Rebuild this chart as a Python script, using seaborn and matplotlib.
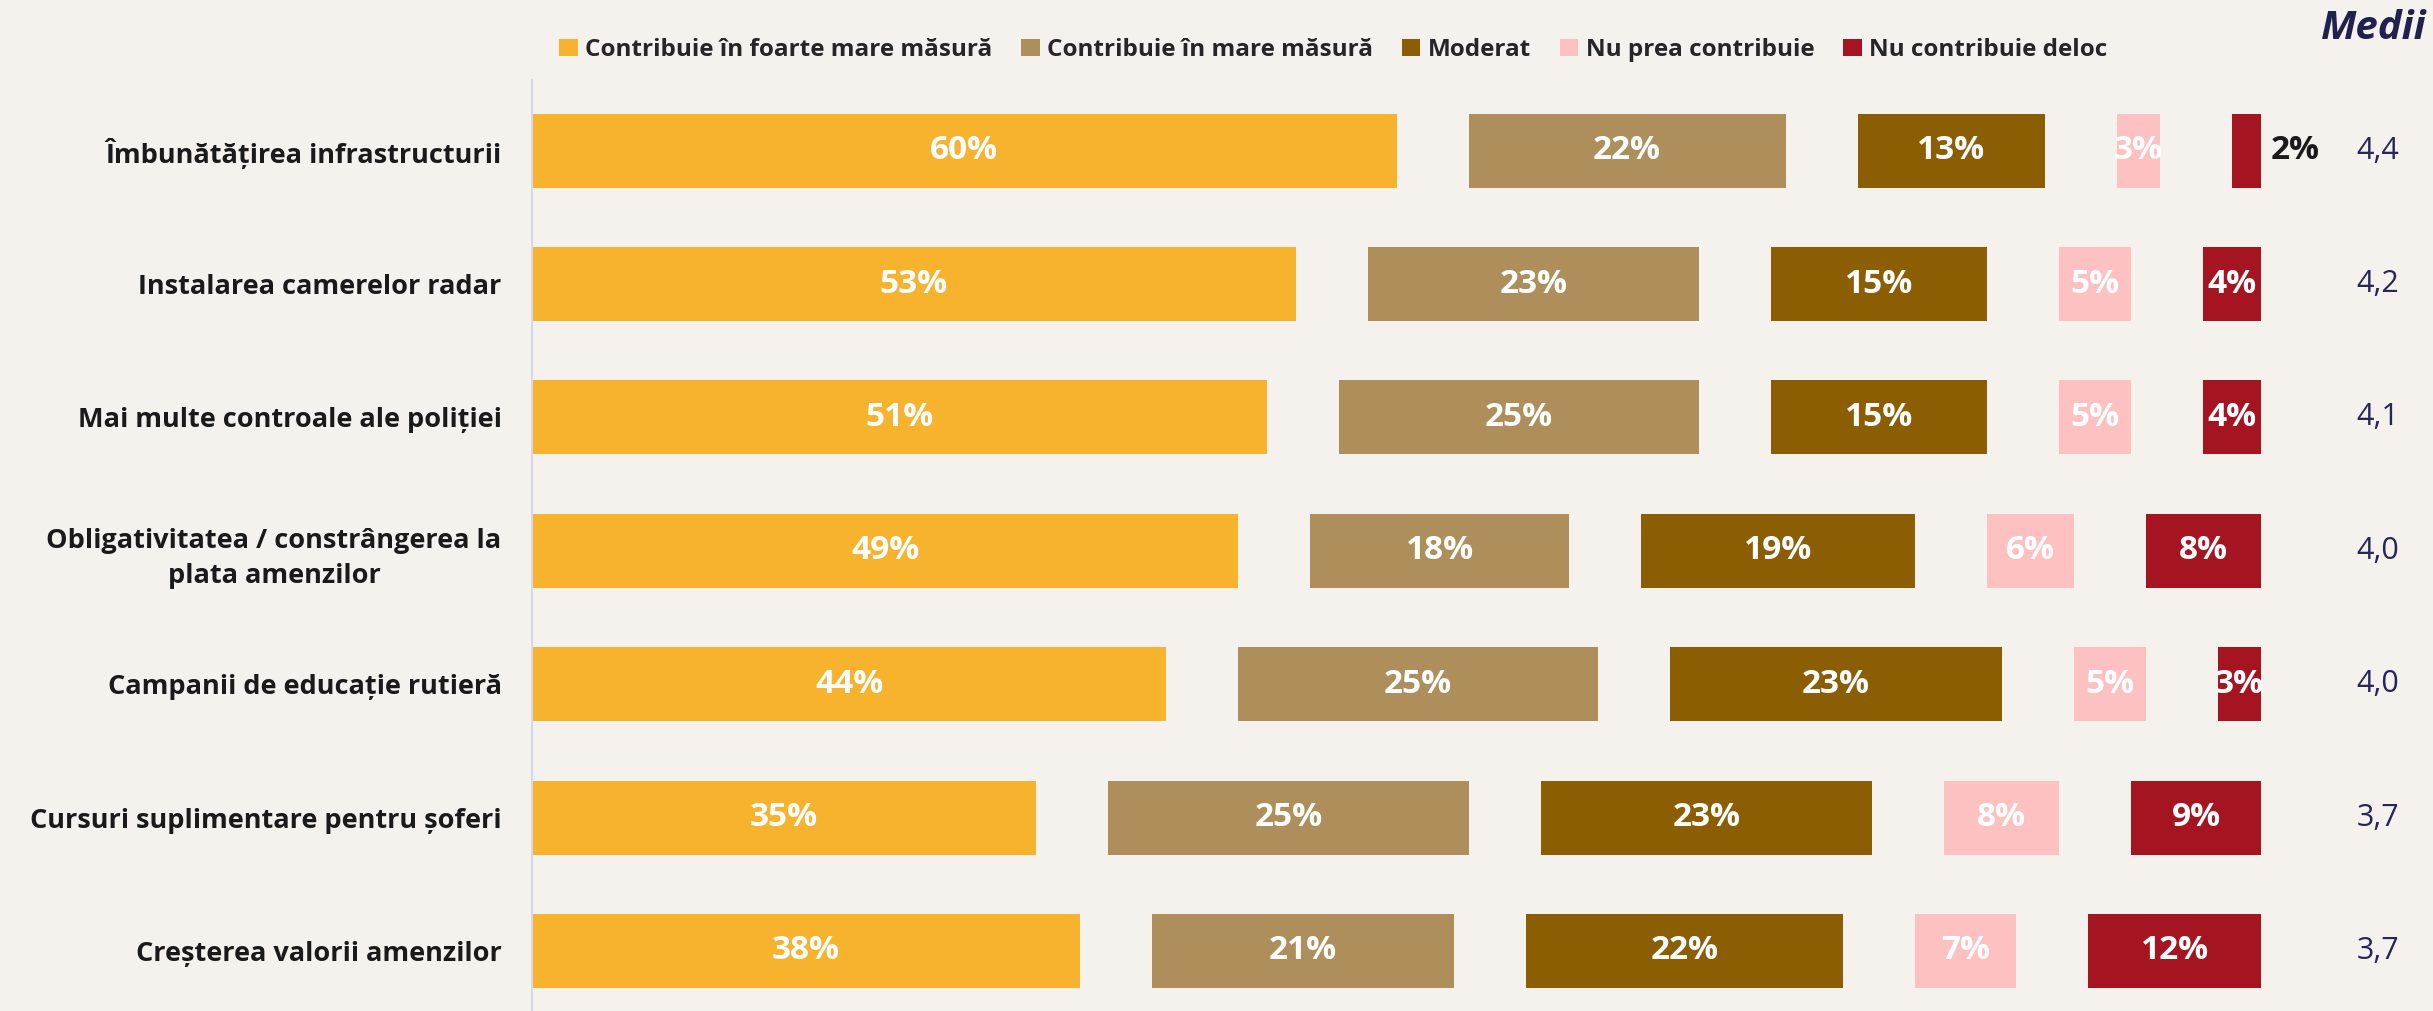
import numpy as np
import pandas as pd
import matplotlib.pyplot as plt
import seaborn as sns
from matplotlib.patches import Patch

# date din grafic
items = [
    "Îmbunătățirea infrastructurii",
    "Instalarea camerelor radar",
    "Mai multe controale ale poliției",
    "Obligativitatea / constrângerea la\nplata amenzilor",
    "Campanii de educație rutieră",
    "Cursuri suplimentare pentru șoferi",
    "Creșterea valorii amenzilor",
]
categories = [
    "Contribuie în foarte mare măsură",
    "Contribuie în mare măsură",
    "Moderat",
    "Nu prea contribuie",
    "Nu contribuie deloc",
]
foarte_mare = [60, 53, 51, 49, 44, 35, 38]
mare = [22, 23, 25, 18, 25, 25, 21]
moderat = [13, 15, 15, 19, 23, 23, 22]
nu_prea = [3, 5, 5, 6, 5, 8, 7]
deloc = [2, 4, 4, 8, 3, 9, 12]
medii = ["4,4", "4,2", "4,1", "4,0", "4,0", "3,7", "3,7"]

colors = ["#f7b32d", "#ae8f5c", "#8b5e03", "#fdc1c1", "#a51521"]
BG = "#f5f2ee"
NAVY = "#27265a"
GAP = 5

sns.set_theme(style="white")
plt.rcParams["font.family"] = ["Open Sans", "DejaVu Sans"]

values = np.array([foarte_mare, mare, moderat, nu_prea, deloc]).T

fig = plt.figure(figsize=(24.33, 10.11), dpi=100, facecolor=BG)
ax = fig.add_axes([0.2187, 0.0, 0.7106, 0.9209])
ax.set_facecolor(BG)

for i in range(len(items)):
    left = 0
    for j, v in enumerate(values[i]):
        ax.barh(i, v, left=left, height=0.555, color=colors[j], edgecolor="none")
        if v <= 2:
            ax.text(left + v + 0.7, i, f"{v}%", ha="left", va="center",
                    fontsize=24, fontweight="bold", color="#1a1a1a")
        else:
            ax.text(left + v / 2, i, f"{v}%", ha="center", va="center",
                    fontsize=24, fontweight="bold", color="white")
        left += v + GAP
    ax.text(128.1, i, medii[i], ha="center", va="center", fontsize=22,
            fontweight="normal", color=NAVY, clip_on=False)

ax.set_xlim(0, 100 + 4 * GAP)
ax.set_ylim(6.45, -0.53)
ax.set_xticks([])
ax.set_yticks(range(len(items)))
ax.set_yticklabels(items, fontsize=19.5, fontweight="bold", color="#1a1a1a")
for lab in ax.get_yticklabels():
    lab.set_multialignment("center")
    lab.set_linespacing(1.45)
ax.tick_params(axis="y", length=0, pad=22)
for s in ["top", "right", "bottom"]:
    ax.spines[s].set_visible(False)
ax.spines["left"].set_color("#d6d6ec")
ax.spines["left"].set_linewidth(1.5)

handles = [Patch(facecolor=c, edgecolor="none") for c in colors]
fig.legend(handles, categories, loc="center", bbox_to_anchor=(0.548, 0.9505),
           ncol=5, frameon=False, handlelength=0.75, handleheight=0.75,
           handletextpad=0.3, columnspacing=1.2,
           prop={"size": 17.5, "weight": "bold"})

fig.text(0.9755, 0.972, "Medii", ha="center", va="center", fontsize=29,
         fontweight="bold", fontstyle="italic", color="#22204f")

fig.savefig("out.png", dpi=100, facecolor=BG)
